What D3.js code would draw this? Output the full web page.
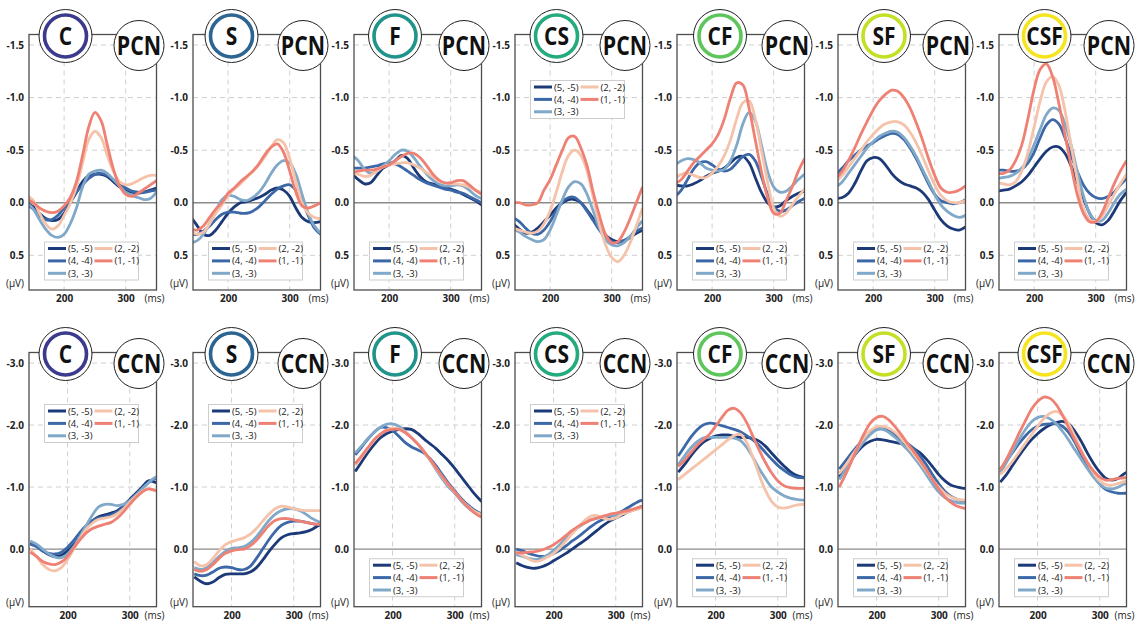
<!DOCTYPE html>
<html>
<head>
<meta charset="utf-8">
<script src="https://cdn.jsdelivr.net/npm/d3@7"></script>
<style>
  body { margin: 0; background: #fff; }
  svg { display: block; }
  text { font-family: "Open Sans", "Noto Sans", sans-serif; }
</style>
</head>
<body>
<svg id="chart" width="1135" height="622"></svg>
<script>
// Sample times (ms) shared by every waveform
const times = [140,150,160,170,180,190,200,210,220,230,240,250,260,270,280,290,300,310,320,330,340,350];

const seriesNames = ["(5, -5)", "(4, -4)", "(3, -3)", "(2, -2)", "(1, -1)"];
const conditions = ["C", "S", "F", "CS", "CF", "SF", "CSF"];
const components = ["PCN", "CCN"];
const xTickValues = [200, 300];
const pcnTicks = [-1.5, -1.0, -0.5, 0.0, 0.5];
const ccnTicks = [-3.0, -2.0, -1.0, 0.0];

// PCN amplitudes (µV), one row per series in seriesNames order
const PCN_C = [
  [0.0,0.04,0.1,0.15,0.17,0.16,0.1,0.0,-0.1,-0.2,-0.26,-0.27,-0.27,-0.25,-0.2,-0.15,-0.12,-0.1,-0.09,-0.1,-0.12,-0.14],
  [0.02,0.06,0.12,0.16,0.16,0.12,0.05,-0.03,-0.1,-0.17,-0.23,-0.27,-0.28,-0.26,-0.22,-0.18,-0.14,-0.11,-0.1,-0.1,-0.11,-0.12],
  [0.0,0.06,0.16,0.25,0.31,0.33,0.3,0.2,0.05,-0.15,-0.27,-0.3,-0.31,-0.28,-0.22,-0.16,-0.1,-0.07,-0.05,-0.03,-0.04,-0.1],
  [-0.07,-0.02,0.1,0.2,0.25,0.22,0.12,0.01,-0.15,-0.38,-0.6,-0.68,-0.62,-0.45,-0.3,-0.2,-0.17,-0.18,-0.21,-0.24,-0.26,-0.26],
  [-0.03,0.0,0.05,0.08,0.095,0.08,0.03,-0.05,-0.2,-0.45,-0.72,-0.86,-0.78,-0.55,-0.32,-0.16,-0.08,-0.06,-0.09,-0.13,-0.17,-0.21]
];
const PCN_S = [
  [0.14,0.22,0.3,0.31,0.26,0.18,0.1,0.04,0.0,-0.01,-0.03,-0.05,-0.08,-0.12,-0.14,-0.12,-0.06,0.05,0.14,0.18,0.19,0.18],
  [0.3,0.3,0.27,0.22,0.16,0.11,0.09,0.09,0.1,0.1,0.08,0.04,-0.02,-0.08,-0.13,-0.16,-0.17,-0.12,-0.02,0.12,0.24,0.3],
  [0.38,0.36,0.3,0.2,0.08,-0.03,-0.07,-0.06,-0.03,-0.02,-0.05,-0.1,-0.18,-0.28,-0.36,-0.4,-0.38,-0.27,-0.08,0.1,0.22,0.29],
  [0.28,0.3,0.28,0.2,0.1,0.02,-0.07,-0.13,-0.18,-0.24,-0.3,-0.36,-0.44,-0.53,-0.6,-0.57,-0.42,-0.2,0.0,0.1,0.14,0.15],
  [0.25,0.26,0.22,0.14,0.06,0.0,-0.09,-0.14,-0.2,-0.25,-0.3,-0.37,-0.46,-0.53,-0.56,-0.48,-0.3,-0.1,0.03,0.05,0.03,0.0]
];
const PCN_F = [
  [-0.27,-0.22,-0.18,-0.19,-0.26,-0.33,-0.36,-0.4,-0.45,-0.42,-0.33,-0.25,-0.2,-0.18,-0.17,-0.15,-0.13,-0.11,-0.08,-0.05,-0.02,0.02],
  [-0.33,-0.33,-0.33,-0.34,-0.35,-0.37,-0.38,-0.37,-0.34,-0.3,-0.26,-0.22,-0.19,-0.17,-0.15,-0.13,-0.12,-0.1,-0.09,-0.06,-0.03,0.0],
  [-0.45,-0.4,-0.32,-0.28,-0.3,-0.35,-0.4,-0.46,-0.5,-0.49,-0.43,-0.35,-0.28,-0.22,-0.18,-0.16,-0.16,-0.17,-0.16,-0.12,-0.07,-0.04],
  [-0.28,-0.27,-0.25,-0.26,-0.3,-0.34,-0.36,-0.37,-0.38,-0.38,-0.36,-0.33,-0.29,-0.25,-0.21,-0.19,-0.18,-0.18,-0.17,-0.15,-0.12,-0.1],
  [-0.29,-0.3,-0.31,-0.31,-0.32,-0.34,-0.36,-0.4,-0.44,-0.47,-0.47,-0.43,-0.36,-0.28,-0.22,-0.19,-0.19,-0.21,-0.21,-0.17,-0.12,-0.08]
];
const PCN_CS = [
  [0.2,0.25,0.29,0.28,0.24,0.18,0.12,0.05,0.0,-0.03,-0.03,0.0,0.07,0.15,0.24,0.31,0.35,0.37,0.36,0.33,0.29,0.26],
  [0.14,0.18,0.24,0.29,0.3,0.26,0.18,0.08,-0.01,-0.05,-0.05,0.0,0.08,0.17,0.26,0.33,0.37,0.38,0.36,0.32,0.27,0.24],
  [0.25,0.28,0.32,0.35,0.37,0.35,0.26,0.12,-0.03,-0.15,-0.2,-0.18,-0.08,0.08,0.24,0.35,0.4,0.41,0.38,0.32,0.24,0.17],
  [0.24,0.26,0.28,0.29,0.27,0.2,0.08,-0.1,-0.3,-0.45,-0.5,-0.45,-0.3,-0.05,0.2,0.4,0.52,0.56,0.5,0.38,0.22,0.05],
  [0.0,0.0,0.02,0.02,0.0,-0.12,-0.22,-0.36,-0.5,-0.62,-0.63,-0.52,-0.35,-0.1,0.12,0.3,0.38,0.37,0.28,0.15,0.0,-0.15]
];
const PCN_CF = [
  [-0.17,-0.16,-0.16,-0.18,-0.21,-0.25,-0.28,-0.3,-0.33,-0.38,-0.43,-0.44,-0.38,-0.24,-0.1,0.0,0.04,0.03,-0.02,-0.06,-0.09,-0.11],
  [-0.06,-0.12,-0.22,-0.32,-0.38,-0.39,-0.36,-0.32,-0.3,-0.32,-0.38,-0.44,-0.46,-0.4,-0.25,-0.08,0.04,0.08,0.07,0.03,-0.01,-0.04],
  [-0.36,-0.4,-0.42,-0.41,-0.38,-0.33,-0.31,-0.3,-0.32,-0.4,-0.55,-0.75,-0.86,-0.78,-0.55,-0.3,-0.15,-0.1,-0.11,-0.16,-0.22,-0.27],
  [-0.23,-0.27,-0.28,-0.26,-0.24,-0.24,-0.28,-0.35,-0.45,-0.6,-0.8,-0.95,-0.97,-0.8,-0.5,-0.2,0.05,0.13,0.1,0.02,-0.06,-0.13],
  [-0.18,-0.22,-0.3,-0.38,-0.44,-0.5,-0.56,-0.65,-0.8,-1.0,-1.14,-1.12,-0.9,-0.6,-0.3,-0.05,0.1,0.1,-0.02,-0.15,-0.3,-0.42]
];
const PCN_SF = [
  [-0.04,-0.05,-0.09,-0.18,-0.3,-0.4,-0.43,-0.42,-0.36,-0.28,-0.22,-0.18,-0.16,-0.14,-0.1,-0.03,0.07,0.16,0.22,0.25,0.26,0.23],
  [-0.27,-0.33,-0.4,-0.45,-0.5,-0.54,-0.57,-0.61,-0.64,-0.66,-0.65,-0.6,-0.52,-0.42,-0.3,-0.18,-0.08,-0.02,0.0,0.01,0.0,-0.03],
  [-0.15,-0.2,-0.28,-0.36,-0.44,-0.52,-0.58,-0.63,-0.66,-0.68,-0.67,-0.62,-0.54,-0.44,-0.32,-0.2,-0.08,0.02,0.08,0.12,0.14,0.12],
  [-0.2,-0.26,-0.34,-0.42,-0.5,-0.58,-0.65,-0.71,-0.75,-0.77,-0.77,-0.74,-0.67,-0.57,-0.44,-0.3,-0.17,-0.07,-0.02,0.0,0.0,-0.02],
  [-0.23,-0.3,-0.4,-0.52,-0.65,-0.77,-0.88,-0.97,-1.03,-1.07,-1.06,-1.0,-0.9,-0.76,-0.6,-0.42,-0.26,-0.14,-0.1,-0.1,-0.12,-0.16]
];
const PCN_CSF = [
  [-0.11,-0.12,-0.13,-0.16,-0.2,-0.26,-0.34,-0.42,-0.49,-0.53,-0.53,-0.47,-0.35,-0.2,-0.04,0.1,0.19,0.21,0.17,0.08,-0.02,-0.1],
  [-0.31,-0.31,-0.3,-0.3,-0.32,-0.38,-0.48,-0.62,-0.74,-0.79,-0.75,-0.62,-0.45,-0.3,-0.17,-0.09,-0.05,-0.04,-0.06,-0.1,-0.17,-0.23],
  [-0.23,-0.24,-0.25,-0.28,-0.33,-0.42,-0.55,-0.7,-0.84,-0.9,-0.88,-0.75,-0.55,-0.3,-0.07,0.1,0.17,0.17,0.1,0.0,-0.08,-0.13],
  [-0.19,-0.18,-0.17,-0.2,-0.3,-0.48,-0.72,-0.97,-1.15,-1.2,-1.12,-0.88,-0.55,-0.22,0.05,0.16,0.18,0.13,0.03,-0.08,-0.18,-0.27],
  [-0.28,-0.28,-0.31,-0.4,-0.55,-0.8,-1.08,-1.27,-1.32,-1.2,-0.95,-0.65,-0.35,-0.08,0.1,0.18,0.18,0.1,-0.04,-0.18,-0.3,-0.4]
];

// CCN amplitudes (µV)
const CCN_C = [
  [-0.1,-0.05,0.03,0.09,0.12,0.1,0.03,-0.07,-0.2,-0.34,-0.45,-0.52,-0.55,-0.58,-0.62,-0.7,-0.8,-0.9,-1.0,-1.1,-1.08,-1.05],
  [-0.08,-0.04,0.03,0.07,0.08,0.05,-0.03,-0.14,-0.27,-0.38,-0.46,-0.5,-0.52,-0.55,-0.6,-0.68,-0.78,-0.88,-0.98,-1.07,-1.13,-1.16],
  [-0.13,-0.08,0.0,0.08,0.13,0.14,0.08,-0.04,-0.2,-0.38,-0.55,-0.68,-0.72,-0.72,-0.7,-0.72,-0.78,-0.87,-0.97,-1.07,-1.15,-1.18],
  [0.0,0.12,0.25,0.33,0.35,0.3,0.17,0.0,-0.17,-0.32,-0.42,-0.48,-0.5,-0.52,-0.57,-0.65,-0.75,-0.85,-0.93,-0.97,-0.94,-0.92],
  [0.05,0.12,0.2,0.24,0.25,0.21,0.12,-0.02,-0.15,-0.26,-0.33,-0.37,-0.4,-0.43,-0.5,-0.6,-0.72,-0.83,-0.92,-0.97,-0.95,-0.92]
];
const CCN_S = [
  [0.45,0.52,0.56,0.53,0.46,0.41,0.4,0.4,0.4,0.37,0.3,0.18,0.04,-0.08,-0.18,-0.23,-0.25,-0.26,-0.28,-0.32,-0.38,-0.4],
  [0.4,0.43,0.42,0.37,0.31,0.29,0.3,0.33,0.33,0.28,0.15,0.0,-0.15,-0.28,-0.38,-0.43,-0.45,-0.45,-0.43,-0.41,-0.39,-0.38],
  [0.3,0.33,0.3,0.22,0.12,0.04,-0.01,-0.02,-0.04,-0.1,-0.2,-0.33,-0.46,-0.56,-0.62,-0.65,-0.65,-0.62,-0.56,-0.49,-0.44,-0.42],
  [0.2,0.27,0.25,0.15,0.03,-0.07,-0.12,-0.15,-0.18,-0.24,-0.33,-0.45,-0.56,-0.65,-0.69,-0.68,-0.65,-0.63,-0.62,-0.62,-0.62,-0.62],
  [0.33,0.36,0.33,0.25,0.15,0.07,0.03,0.01,0.0,-0.05,-0.14,-0.26,-0.38,-0.46,-0.49,-0.49,-0.47,-0.45,-0.43,-0.41,-0.4,-0.4]
];
const CCN_F = [
  [-1.25,-1.4,-1.55,-1.68,-1.79,-1.86,-1.9,-1.93,-1.94,-1.93,-1.87,-1.78,-1.7,-1.62,-1.52,-1.42,-1.3,-1.17,-1.04,-0.91,-0.8,-0.7],
  [-1.52,-1.64,-1.77,-1.88,-1.96,-1.96,-1.91,-1.82,-1.72,-1.65,-1.6,-1.55,-1.46,-1.34,-1.2,-1.06,-0.94,-0.82,-0.72,-0.64,-0.58,-0.55],
  [-1.55,-1.66,-1.78,-1.88,-1.96,-2.01,-2.02,-1.98,-1.9,-1.8,-1.7,-1.58,-1.44,-1.28,-1.13,-1.0,-0.9,-0.78,-0.68,-0.6,-0.55,-0.53],
  [-1.35,-1.48,-1.62,-1.75,-1.85,-1.92,-1.95,-1.94,-1.89,-1.8,-1.7,-1.58,-1.44,-1.3,-1.16,-1.03,-0.92,-0.8,-0.7,-0.62,-0.57,-0.55],
  [-1.38,-1.5,-1.63,-1.76,-1.85,-1.91,-1.93,-1.93,-1.88,-1.8,-1.7,-1.58,-1.45,-1.31,-1.17,-1.04,-0.92,-0.8,-0.69,-0.6,-0.53,-0.5]
];
const CCN_CS = [
  [0.22,0.27,0.3,0.31,0.29,0.25,0.19,0.13,0.07,0.0,-0.07,-0.14,-0.22,-0.3,-0.38,-0.45,-0.5,-0.55,-0.6,-0.64,-0.68,-0.7],
  [0.0,0.03,0.07,0.1,0.12,0.11,0.07,0.02,-0.05,-0.13,-0.2,-0.28,-0.36,-0.43,-0.48,-0.52,-0.56,-0.61,-0.67,-0.73,-0.78,-0.78],
  [0.09,0.12,0.15,0.17,0.15,0.1,0.02,-0.07,-0.17,-0.27,-0.35,-0.42,-0.47,-0.5,-0.52,-0.54,-0.55,-0.57,-0.6,-0.64,-0.68,-0.7],
  [0.05,0.1,0.16,0.2,0.18,0.13,0.07,-0.02,-0.13,-0.25,-0.36,-0.46,-0.53,-0.54,-0.5,-0.48,-0.5,-0.56,-0.6,-0.63,-0.66,-0.67],
  [0.06,0.06,0.05,0.04,0.02,-0.02,-0.07,-0.14,-0.22,-0.3,-0.37,-0.42,-0.47,-0.5,-0.53,-0.56,-0.58,-0.6,-0.62,-0.65,-0.68,-0.7]
];
const CCN_CF = [
  [-1.24,-1.36,-1.5,-1.62,-1.72,-1.78,-1.82,-1.84,-1.84,-1.82,-1.8,-1.8,-1.78,-1.74,-1.66,-1.55,-1.44,-1.34,-1.25,-1.19,-1.16,-1.15],
  [-1.5,-1.65,-1.8,-1.92,-2.0,-2.03,-2.02,-1.99,-1.96,-1.93,-1.89,-1.83,-1.76,-1.67,-1.56,-1.45,-1.35,-1.27,-1.2,-1.16,-1.15,-1.15],
  [-1.36,-1.5,-1.63,-1.73,-1.79,-1.8,-1.8,-1.8,-1.8,-1.79,-1.75,-1.64,-1.48,-1.3,-1.14,-1.0,-0.92,-0.86,-0.82,-0.8,-0.79,-0.79],
  [-1.12,-1.2,-1.28,-1.36,-1.44,-1.52,-1.6,-1.68,-1.76,-1.83,-1.85,-1.72,-1.48,-1.2,-0.95,-0.77,-0.68,-0.66,-0.68,-0.71,-0.72,-0.72],
  [-1.33,-1.43,-1.55,-1.67,-1.76,-1.85,-1.98,-2.12,-2.24,-2.27,-2.2,-2.04,-1.82,-1.6,-1.4,-1.23,-1.1,-1.02,-0.99,-0.98,-0.98,-0.98]
];
const CCN_SF = [
  [-1.16,-1.3,-1.45,-1.58,-1.68,-1.74,-1.77,-1.76,-1.74,-1.72,-1.7,-1.67,-1.62,-1.55,-1.45,-1.33,-1.2,-1.1,-1.03,-1.0,-0.98,-0.98],
  [-1.29,-1.42,-1.55,-1.67,-1.78,-1.88,-1.94,-1.94,-1.9,-1.84,-1.76,-1.7,-1.62,-1.5,-1.36,-1.2,-1.05,-0.93,-0.85,-0.8,-0.77,-0.76],
  [-1.12,-1.28,-1.45,-1.6,-1.74,-1.85,-1.92,-1.93,-1.88,-1.8,-1.7,-1.6,-1.48,-1.35,-1.2,-1.05,-0.92,-0.83,-0.78,-0.75,-0.74,-0.74],
  [-1.22,-1.35,-1.5,-1.65,-1.8,-1.91,-1.97,-1.98,-1.95,-1.88,-1.78,-1.66,-1.53,-1.4,-1.26,-1.12,-1.0,-0.9,-0.84,-0.8,-0.79,-0.79],
  [-1.0,-1.2,-1.42,-1.65,-1.86,-2.03,-2.12,-2.14,-2.08,-1.97,-1.84,-1.7,-1.57,-1.43,-1.28,-1.12,-0.97,-0.84,-0.75,-0.69,-0.66,-0.65]
];
const CCN_CSF = [
  [-1.08,-1.2,-1.35,-1.5,-1.64,-1.76,-1.86,-1.94,-2.0,-2.04,-2.06,-2.02,-1.9,-1.74,-1.55,-1.38,-1.24,-1.14,-1.11,-1.14,-1.22,-1.25],
  [-1.28,-1.42,-1.56,-1.7,-1.82,-1.92,-1.98,-2.01,-2.02,-2.02,-1.98,-1.88,-1.72,-1.53,-1.35,-1.18,-1.05,-0.96,-0.92,-0.9,-0.9,-0.9],
  [-1.23,-1.4,-1.58,-1.76,-1.92,-2.05,-2.12,-2.14,-2.1,-2.02,-1.9,-1.76,-1.6,-1.45,-1.3,-1.16,-1.05,-0.98,-0.97,-1.0,-1.05,-1.06],
  [-1.2,-1.3,-1.42,-1.56,-1.7,-1.84,-1.98,-2.1,-2.19,-2.22,-2.16,-2.02,-1.82,-1.6,-1.4,-1.23,-1.1,-1.04,-1.03,-1.06,-1.09,-1.1],
  [-1.28,-1.45,-1.65,-1.86,-2.06,-2.25,-2.38,-2.45,-2.43,-2.33,-2.16,-1.96,-1.76,-1.57,-1.4,-1.26,-1.16,-1.11,-1.12,-1.14,-1.15,-1.15]
];

// ---- styling / layout ----
const seriesColors = ["#1c3a78", "#3c68a8", "#80a8c9", "#f5c2aa", "#ef8074"];
const ringColors = ["#3b3a8c", "#2c6592", "#20948a", "#24ab7c", "#5cc65a", "#c4df26", "#f6e41e"];
const panelLefts = [29, 193, 354, 515, 677, 838, 999];
const panelW = 127.5;
const leftCircleDx = [36.5, 38.5, 41, 41.5, 43, 46, 45.5];

const rows = [
  { comp: components[0], top: 34.5, bottom: 290, yDomain: [-1.6, 0.83], xDomain: [143, 350],
    ticks: pcnTicks, data: [PCN_C, PCN_S, PCN_F, PCN_CS, PCN_CF, PCN_SF, PCN_CSF],
    legendTop: [false, false, false, true, false, false, false], legendTopDy: 46, unitDy: 7 },
  { comp: components[1], top: 352.5, bottom: 606.7, yDomain: [-3.17, 0.93], xDomain: [138, 343],
    ticks: ccnTicks, data: [CCN_C, CCN_S, CCN_F, CCN_CS, CCN_CF, CCN_SF, CCN_CSF],
    legendTop: [true, true, false, true, false, false, false], legendTopDy: 52, unitDy: 5 }
];

const svg = d3.select("#chart");
svg.append("rect").attr("width", 1135).attr("height", 622).attr("fill", "#fff");
const defs = svg.append("defs");
const fmt = d => d.toFixed(1);

rows.forEach((row, ri) => {
  conditions.forEach((cond, ci) => {
    const x0 = panelLefts[ci], x1 = x0 + panelW;
    const x = d3.scaleLinear().domain(row.xDomain).range([x0, x1]);
    const y = d3.scaleLinear().domain(row.yDomain).range([row.top, row.bottom]);
    const g = svg.append("g").attr("class", `panel ${row.comp}-${cond}`);

    const clipId = `clip-${ri}-${ci}`;
    defs.append("clipPath").attr("id", clipId)
      .append("rect").attr("x", x0).attr("y", row.top).attr("width", panelW).attr("height", row.bottom - row.top);

    // dashed grid
    g.selectAll("line.hgrid").data(row.ticks.filter(v => v !== 0)).join("line")
      .attr("class", "hgrid")
      .attr("x1", x0).attr("x2", x1)
      .attr("y1", d => y(d)).attr("y2", d => y(d))
      .attr("stroke", "#cfcfcf").attr("stroke-width", 1).attr("stroke-dasharray", "5,4");
    g.selectAll("line.vgrid").data(xTickValues).join("line")
      .attr("class", "vgrid")
      .attr("x1", d => x(d)).attr("x2", d => x(d))
      .attr("y1", row.top).attr("y2", row.bottom)
      .attr("stroke", "#cfcfcf").attr("stroke-width", 1).attr("stroke-dasharray", "5,4");

    // zero line
    g.append("line")
      .attr("x1", x0).attr("x2", x1).attr("y1", y(0)).attr("y2", y(0))
      .attr("stroke", "#8a8a8a").attr("stroke-width", 1.3);

    // waveforms
    const line = d3.line()
      .x((d, i) => x(times[i]))
      .y(d => y(d))
      .curve(d3.curveCatmullRom.alpha(0.5));
    g.append("g").attr("clip-path", `url(#${clipId})`)
      .selectAll("path").data(row.data[ci]).join("path")
      .attr("d", d => line(d))
      .attr("fill", "none")
      .attr("stroke", (d, i) => seriesColors[i])
      .attr("stroke-width", 2.8)
      .attr("stroke-linejoin", "round");

    // frame
    g.append("rect")
      .attr("x", x0).attr("y", row.top).attr("width", panelW).attr("height", row.bottom - row.top)
      .attr("fill", "none").attr("stroke", "#4d4d4d").attr("stroke-width", 1.3);

    // axes
    const yAxis = d3.axisLeft(y).tickValues(row.ticks).tickFormat(fmt).tickSize(0).tickPadding(5);
    const ya = g.append("g").attr("transform", `translate(${x0},0)`).call(yAxis);
    const xAxis = d3.axisBottom(x).tickValues(xTickValues).tickFormat(d3.format("d")).tickSize(0).tickPadding(5);
    const xa = g.append("g").attr("transform", `translate(0,${row.bottom})`).call(xAxis);
    [ya, xa].forEach(a => {
      a.select(".domain").remove();
      a.selectAll("text").attr("font-size", 10).attr("font-weight", 700).attr("fill", "#222")
        .attr("font-family", '"Open Sans", sans-serif');
    });

    g.append("text").attr("x", x0 - 5).attr("y", row.bottom - row.unitDy)
      .attr("text-anchor", "end").attr("dominant-baseline", "central")
      .attr("font-size", 10).attr("fill", "#222").text("(μV)");
    g.append("text").attr("x", x1 - 2).attr("y", row.bottom + 8)
      .attr("text-anchor", "middle").attr("dominant-baseline", "central")
      .attr("font-size", 10).attr("fill", "#222").text("(ms)");

    // legend
    const lx = x0 + 15.5;
    const ly = row.legendTop[ci] ? row.top + row.legendTopDy : row.bottom - 48;
    const lg = g.append("g").attr("transform", `translate(${lx},${ly})`);
    lg.append("rect").attr("width", 94).attr("height", 38)
      .attr("fill", "#fff").attr("stroke", "#cdcdcd").attr("stroke-width", 1);
    const items = lg.selectAll("g.item").data(seriesNames).join("g")
      .attr("class", "item")
      .attr("transform", (d, i) => {
        const col = i < 3 ? 0 : 1, r = i < 3 ? i : i - 3;
        return `translate(${col === 0 ? 3.5 : 50},${6.5 + r * 12.4})`;
      });
    items.append("line").attr("x1", 0).attr("x2", 18).attr("y1", 0).attr("y2", 0)
      .attr("stroke", (d, i) => seriesColors[i]).attr("stroke-width", 3);
    items.append("text").attr("x", 20).attr("y", 0).attr("dominant-baseline", "central")
      .attr("font-size", 9.5).attr("fill", "#222").text(d => d);

    // condition badge
    const cx = x0 + leftCircleDx[ci], cy = row.top + 1.5;
    g.append("circle").attr("cx", cx).attr("cy", cy).attr("r", 26.5)
      .attr("fill", "#fff").attr("stroke", "#222").attr("stroke-width", 1);
    g.append("circle").attr("cx", cx).attr("cy", cy).attr("r", 21)
      .attr("fill", "none").attr("stroke", ringColors[ci]).attr("stroke-width", 3.6);
    g.append("text").attr("transform", `translate(${cx},${cy + 9}) scale(0.84,1)`)
      .attr("text-anchor", "middle").attr("font-size", 25).attr("font-weight", 700)
      .attr("fill", "#111").text(cond);

    // component badge
    const rx = x1 - 17.5, ry = row.top + 11;
    g.append("circle").attr("cx", rx).attr("cy", ry).attr("r", 25)
      .attr("fill", "#fff").attr("stroke", "#222").attr("stroke-width", 1);
    g.append("text").attr("transform", `translate(${rx},${ry + 9}) scale(0.82,1)`)
      .attr("text-anchor", "middle").attr("font-size", 26).attr("font-weight", 700)
      .attr("fill", "#111").text(row.comp);
  });
});
</script>
</body>
</html>
